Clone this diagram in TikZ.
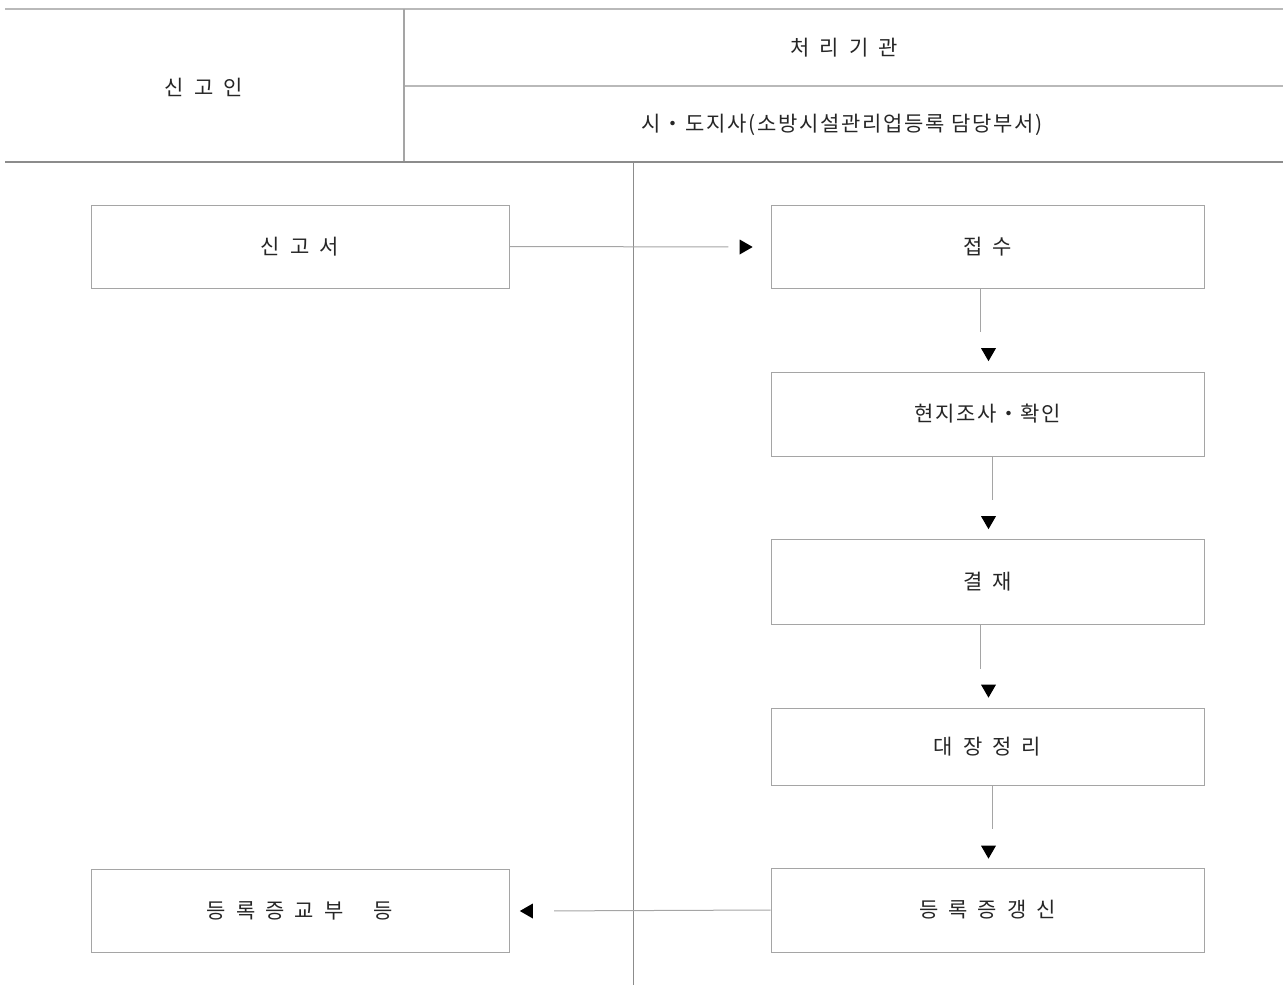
\documentclass[tikz,border=0pt]{standalone}
\usepackage{fontspec}
\setmainfont[LetterSpace=8]{Noto Sans CJK KR}
\usetikzlibrary{shapes.geometric}
\definecolor{lgray}{RGB}{185,185,185}
\definecolor{mgray}{RGB}{165,165,165}
\definecolor{dgray}{RGB}{140,140,140}
\newcommand{\gp}{\hspace{0.48em}}
\begin{document}
\begin{tikzpicture}[x=1pt,y=-1pt,
  txt/.style={inner sep=0pt, font=\fontsize{21}{25}\selectfont, text=black!85},
  box/.style={draw=mgray, line width=1pt, inner sep=0pt, font=\fontsize{21}{25}\selectfont, text=black!85},
  lbox/.style={box, minimum width=418pt, minimum height=83pt},
  rbox/.style={box, minimum width=433pt},
  conn/.style={draw=mgray, line width=1pt},
  tri/.style={isosceles triangle, isosceles triangle stretches, fill=black, draw=none, inner sep=0pt, minimum height=13pt, minimum width=15pt},
  trid/.style={tri, shape border rotate=270},
  trir/.style={tri, shape border rotate=0},
  tril/.style={tri, shape border rotate=180},
  hline/.style={draw=lgray, line width=1.3pt}
]
\useasboundingbox (0,0) rectangle (1283,985);
% header table
\draw[hline] (5,9) -- (1283,9);
\draw[hline] (404,86) -- (1283,86);
\draw[draw=mgray, line width=1.3pt] (404,9) -- (404,162);
\draw[draw=dgray, line width=1.3pt] (5,162) -- (1283,162);
\draw[draw=dgray, line width=1pt] (633,162) -- (633,985);
\node[txt] (hsin) at (204,87) {신\gp 고\gp 인};
\node[txt] (hche) at (844,48) {처\gp 리\gp 기\gp 관};
\node[txt] (hsi) at (842,125) {시・도지사(소방시설관리업등록 담당부서)};
% boxes
\node[lbox] (singo) at (300,246.5) {신\gp 고\gp 서};
\node[rbox, minimum height=83pt] (jeop) at (987.5,246.5) {접\gp 수};
\node[rbox, minimum height=84pt] (hyeon) at (987.5,414) {현지조사・확인};
\node[rbox, minimum height=85pt] (gyeol) at (987.5,582) {결\gp 재};
\node[rbox, minimum height=77pt] (dae) at (987.5,746.5) {대\gp 장\gp 정\gp 리};
\node[rbox, minimum height=84pt] (gaeng) at (987.5,910) {등\gp 록\gp 증\gp 갱\gp 신};
\node[lbox] (gyobu) at (300,910.5) {등\gp 록\gp 증\gp 교\gp 부\gp\gp\gp 등};
% arrowheads
\node[trir] (t0) at (744,247) {};
\node[trid] (t1) at (988.5,352.5) {};
\node[trid] (t2) at (988.5,520.5) {};
\node[trid] (t3) at (988.5,689) {};
\node[trid] (t4) at (988.5,850) {};
\node[tril] (t5) at (528.5,911) {};
% connectors
\draw[conn, shorten >=11pt] (singo.east) -- (t0.west);
\draw[conn, shorten >=16pt] ([xshift=-7.5pt]jeop.south) coordinate (s1) -- (s1 |- t1.north);
\draw[conn, shorten >=16pt] ([xshift=4.5pt]hyeon.south) coordinate (s2) -- (s2 |- t2.north);
\draw[conn, shorten >=15pt] ([xshift=-7.5pt]gyeol.south) coordinate (s3) -- (s3 |- t3.north);
\draw[conn, shorten >=16pt] ([xshift=4.5pt]dae.south) coordinate (s4) -- (s4 |- t4.north);
\draw[conn, shorten >=21pt] (gaeng.west) -- (t5.east);
\end{tikzpicture}
\end{document}
